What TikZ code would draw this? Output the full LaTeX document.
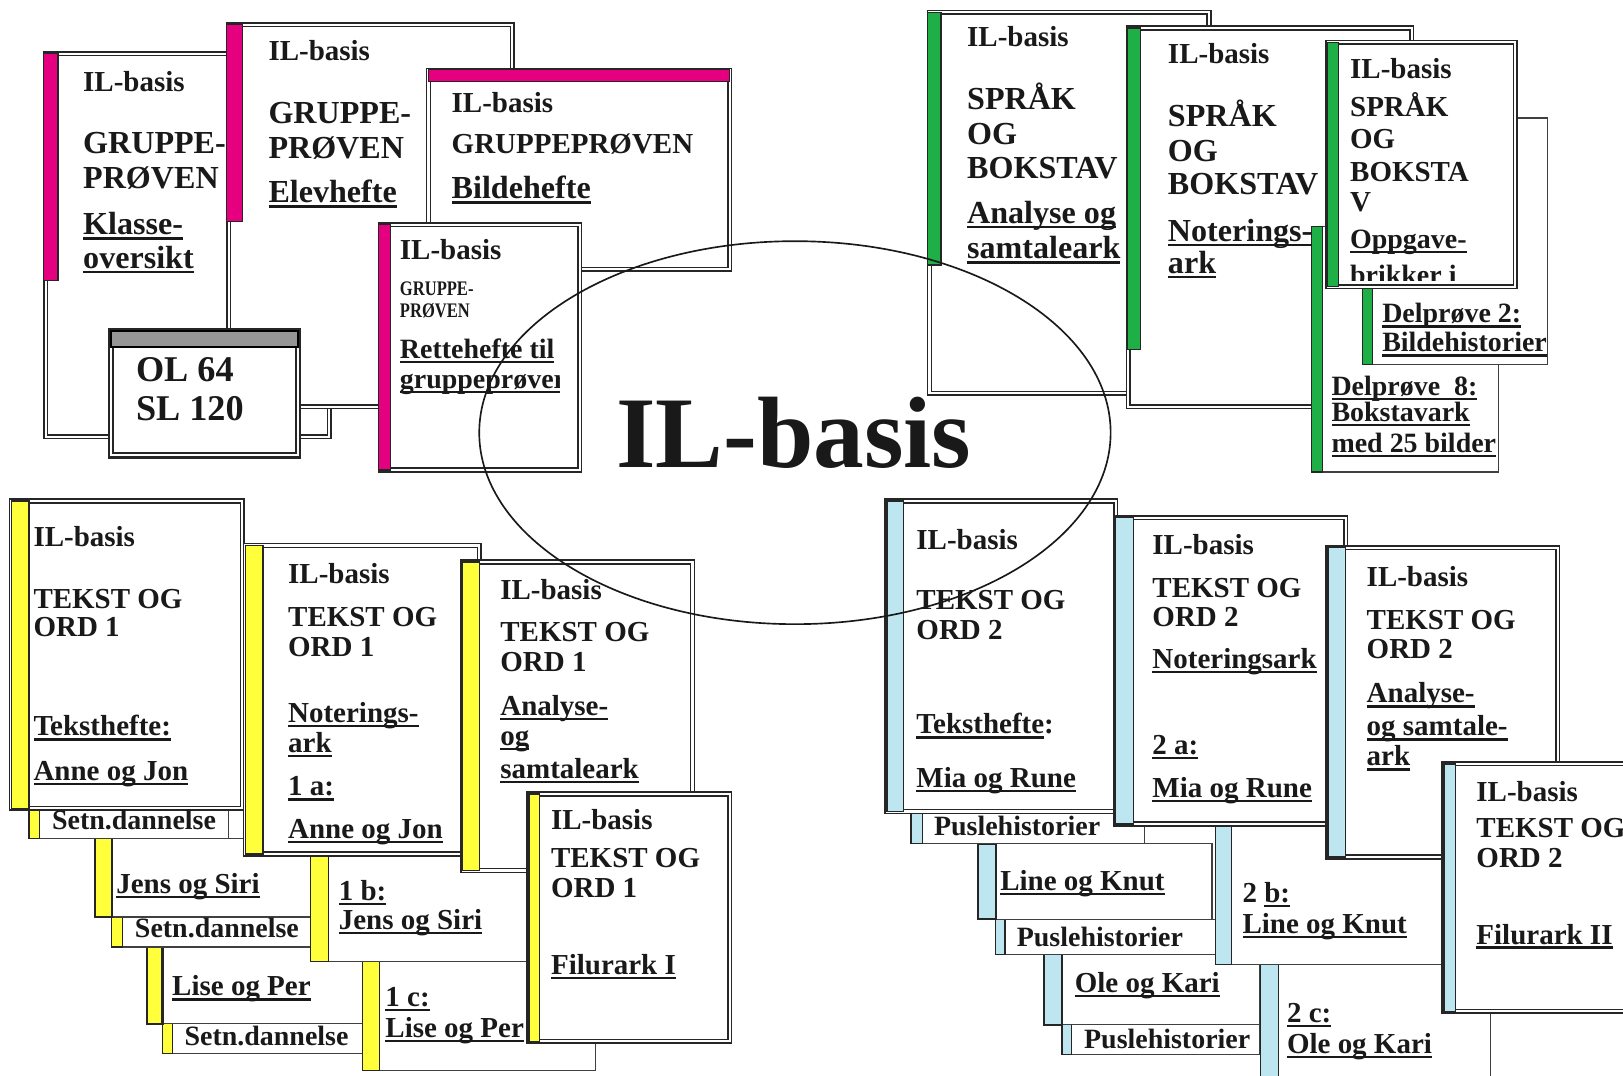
\documentclass[tikz,border=0pt]{standalone}
\usepackage{fontspec}
\setmainfont{Liberation Serif}
\definecolor{pinkc}{RGB}{228,0,126}
\definecolor{greenc}{RGB}{30,175,70}
\definecolor{yellowc}{RGB}{255,255,60}
\definecolor{bluec}{RGB}{190,230,240}
\definecolor{greyc}{RGB}{150,150,150}
\definecolor{txt}{RGB}{25,25,25}
\newcounter{labc}
\newcommand\uln[1]{\setbox0\hbox{#1}\rlap{\copy0}\rule[-2.3pt]{\wd0}{1.1pt}}
\newcommand\lab[4]{\stepcounter{labc}\node[lab,#1] (lab\arabic{labc}) at (#2,#3) {#4};}
\tikzset{
  lab/.style={anchor=base west, inner sep=0pt, text=txt},
  fs/.style={font=\fontsize{14}{16}\selectfont\bfseries},
  fm/.style={font=\fontsize{13.5}{16}\selectfont\bfseries},
  fb/.style={font=\fontsize{15.5}{18}\selectfont\bfseries},
  fd/.style={font=\fontsize{10}{12}\selectfont\bfseries},
  fol/.style={font=\fontsize{17.5}{20}\selectfont\bfseries},
  fbig/.style={font=\fontsize{49}{55}\selectfont\bfseries},
  dbox/.style={fill=white, draw=black!85, double=white, double distance=1pt, line width=0.75pt},
  sbox/.style={fill=white, draw=black!75, line width=0.6pt},
  cbar/.style={fill=#1, draw=black!85, line width=0.6pt},
}
\begin{document}
\begin{tikzpicture}[x=0.5pt,y=-0.5pt]
\clip (0,0) rectangle (1568,1039);
\fill[white] (0,0) rectangle (1568,1039);

% ---------------- pink group ----------------
\draw[dbox] (44,52) rectangle (318,422);
\draw[cbar=pinkc] (42,52) rectangle (56,271);
\draw[dbox] (221,24) rectangle (495,393);
\draw[cbar=pinkc] (219,24) rectangle (234,214);
\draw[dbox] (414,68) rectangle (705,260);
\draw[cbar=pinkc] (414,67) rectangle (705,79);
\draw[dbox,line width=1pt] (107,320) rectangle (288,440);
\draw[fill=greyc,draw=black,line width=0.8pt] (107,320) rectangle (288,335);
\draw[dbox] (368,217) rectangle (560,454);
\draw[cbar=pinkc] (366,217) rectangle (377,454);

\lab{fs}{80}{88}{IL-basis}
\lab{fb}{80}{148}{GRUPPE-}
\lab{fb}{80}{182}{PRØVEN}
\lab{fb}{80}{227}{\uln{Klasse-}}
\lab{fb}{80}{259}{\uln{oversikt}}
\lab{fs}{259}{58}{IL-basis}
\lab{fb}{259}{119}{GRUPPE-}
\lab{fb}{259}{153}{PRØVEN}
\lab{fb}{259}{196}{\uln{Elevhefte}}
\lab{fs}{436}{109}{IL-basis}
\lab{fs}{436}{148}{GRUPPEPRØVEN}
\lab{fb}{436}{192}{\uln{Bildehefte}}
\lab{fs}{386}{251}{IL-basis}
\lab{fd}{386}{285}{\scalebox{0.8}[1]{GRUPPE-}}
\lab{fd}{386}{307}{\scalebox{0.8}[1]{PRØVEN}}
\lab{fm}{386}{346}{\uln{Rettehefte til}}
\begin{scope}
\clip (380,350) rectangle (541,450);
\lab{fm}{386}{375}{\uln{gruppeprøver}}
\end{scope}
\lab{fol}{131}{369}{OL 64}
\lab{fol}{131}{406}{SL 120}

% ---------------- green group ----------------
\draw[dbox] (898,12) rectangle (1168,380);
\draw[cbar=greenc] (896,12) rectangle (909,256);
\draw[dbox] (1090,27) rectangle (1364,393);
\draw[cbar=greenc] (1089,27) rectangle (1102,338);
\draw[sbox] (1268,219) rectangle (1448,456);
\draw[cbar=greenc] (1267,219) rectangle (1278,456);
\draw[sbox] (1316,114) rectangle (1495,352);
\draw[cbar=greenc] (1316,114) rectangle (1326,352);
\draw[dbox] (1283,41) rectangle (1464,277);
\draw[cbar=greenc] (1282,41) rectangle (1293,277);

\lab{fs}{934}{45}{IL-basis}
\lab{fb}{934}{106}{SPRÅK}
\lab{fb}{934}{140}{OG}
\lab{fb}{934}{172}{BOKSTAV}
\lab{fb}{934}{216}{\uln{Analyse og}}
\lab{fb}{934}{250}{\uln{samtaleark}}
\lab{fs}{1128}{61}{IL-basis}
\lab{fb}{1128}{122}{SPRÅK}
\lab{fb}{1128}{156}{OG}
\lab{fb}{1128}{188}{BOKSTAV}
\lab{fb}{1128}{233}{\uln{Noterings-}}
\lab{fb}{1128}{264}{\uln{ark}}
\lab{fs}{1304}{76}{IL-basis}
\lab{fs}{1304}{113}{SPRÅK}
\lab{fs}{1304}{143}{OG}
\lab{fs}{1304}{175}{BOKSTA}
\lab{fs}{1304}{204}{V}
\lab{fm}{1304}{240}{\uln{Oppgave-}}
\begin{scope}
\clip (1295,245) rectangle (1460,271);
\lab{fm}{1304}{275}{\uln{brikker i}}
\end{scope}
\lab{fm}{1335}{312}{\uln{Delprøve 2:}}
\lab{fm}{1335}{340}{\uln{Bildehistorier}}
\lab{fm}{1286}{382}{\uln{Delprøve\ \ 8:}}
\lab{fm}{1286}{407}{\uln{Bokstavark}}
\lab{fm}{1286}{437}{\uln{med 25 bilder}}

% ---------------- yellow group ----------------
\draw[sbox] (157,989) rectangle (351,1018);
\draw[cbar=yellowc] (157,989) rectangle (167,1018);
\draw[sbox] (142,915) rectangle (360,989);
\draw[cbar=yellowc,line width=1pt] (142,915) rectangle (157,989);
\draw[sbox] (108,886) rectangle (300,915);
\draw[cbar=yellowc] (108,886) rectangle (118,915);
\draw[sbox] (92,810) rectangle (311,886);
\draw[cbar=yellowc,line width=1pt] (92,810) rectangle (108,886);
\draw[sbox] (28,781) rectangle (221,810);
\draw[cbar=yellowc] (28,781) rectangle (38,810);
\draw[dbox] (11,484) rectangle (234,781);
\draw[cbar=yellowc] (11,484) rectangle (28,781);
\draw[sbox] (350,929) rectangle (575,1034);
\draw[cbar=yellowc] (350,929) rectangle (367,1034);
\draw[sbox] (300,825) rectangle (520,929);
\draw[cbar=yellowc] (300,825) rectangle (317,929);
\draw[dbox] (237,527) rectangle (463,825);
\draw[cbar=yellowc] (237,527) rectangle (254,825);
\draw[dbox] (447,543) rectangle (669,841);
\draw[cbar=yellowc] (447,543) rectangle (463,841);
\draw[dbox] (511,767) rectangle (705,1006);
\draw[cbar=yellowc] (511,767) rectangle (521,1006);

\lab{fs}{32}{528}{IL-basis}
\lab{fs}{32}{588}{TEKST OG}
\lab{fs}{32}{615}{ORD 1}
\lab{fs}{32}{711}{\uln{Teksthefte:}}
\lab{fs}{32}{754}{\uln{Anne og Jon}}
\lab{fm}{50}{801}{Setn.dannelse}
\lab{fs}{112}{863}{\uln{Jens og Siri}}
\lab{fm}{130}{906}{Setn.dannelse}
\lab{fs}{166}{962}{\uln{Lise og Per}}
\lab{fm}{178}{1010}{Setn.dannelse}
\lab{fs}{278}{564}{IL-basis}
\lab{fs}{278}{605}{TEKST OG}
\lab{fs}{278}{634}{ORD 1}
\lab{fs}{278}{698}{\uln{Noterings-}}
\lab{fs}{278}{727}{\uln{ark}}
\lab{fs}{278}{769}{\uln{1 a:}}
\lab{fs}{278}{810}{\uln{Anne og Jon}}
\lab{fs}{327}{870}{\uln{1 b:}}
\lab{fs}{327}{898}{\uln{Jens og Siri}}
\lab{fs}{372}{972}{\uln{1 c:}}
\lab{fs}{372}{1002}{\uln{Lise og Per}}
\lab{fs}{483}{579}{IL-basis}
\lab{fs}{483}{620}{TEKST OG}
\lab{fs}{483}{649}{ORD 1}
\lab{fs}{483}{691}{\uln{Analyse-}}
\lab{fs}{483}{720}{\uln{og}}
\lab{fs}{483}{752}{\uln{samtaleark}}
\lab{fs}{532}{801}{IL-basis}
\lab{fs}{532}{838}{TEKST OG}
\lab{fs}{532}{867}{ORD 1}
\lab{fs}{532}{941}{\uln{Filurark I}}

% ---------------- blue group ----------------
\draw[sbox] (1026,986) rectangle (1217,1019);
\draw[cbar=bluec] (1026,986) rectangle (1035,1019);
\draw[sbox] (1009,922) rectangle (1217,990);
\draw[cbar=bluec,line width=1pt] (1009,922) rectangle (1026,990);
\draw[sbox] (962,888) rectangle (1174,922);
\draw[cbar=bluec] (962,888) rectangle (971,922);
\draw[sbox] (945,815) rectangle (1171,888);
\draw[cbar=bluec,line width=1pt] (945,815) rectangle (962,888);
\draw[sbox] (880,784) rectangle (1106,815);
\draw[cbar=bluec] (880,784) rectangle (891,815);
\draw[dbox] (857,484) rectangle (1078,784);
\draw[cbar=bluec] (857,484) rectangle (873,784);
\draw[sbox] (1218,932) rectangle (1440,1050);
\draw[cbar=bluec] (1218,932) rectangle (1235,1050);
\draw[sbox] (1174,796) rectangle (1395,932);
\draw[cbar=bluec] (1174,796) rectangle (1190,932);
\draw[dbox] (1078,500) rectangle (1300,796);
\draw[cbar=bluec] (1078,500) rectangle (1095,796);
\draw[dbox] (1283,529) rectangle (1505,828);
\draw[cbar=bluec] (1283,529) rectangle (1300,828);
\draw[dbox] (1395,738) rectangle (1600,977);
\draw[cbar=bluec] (1395,738) rectangle (1406,977);

\lab{fs}{885}{531}{IL-basis}
\lab{fs}{885}{589}{TEKST OG}
\lab{fs}{885}{618}{ORD 2}
\lab{fs}{885}{709}{\uln{Teksthefte}:}
\lab{fs}{885}{761}{\uln{Mia og Rune}}
\lab{fm}{902}{807}{Puslehistorier}
\lab{fs}{966}{860}{\uln{Line og Knut}}
\lab{fm}{982}{914}{Puslehistorier}
\lab{fs}{1038}{959}{\uln{Ole og Kari}}
\lab{fm}{1047}{1013}{Puslehistorier}
\lab{fs}{1113}{536}{IL-basis}
\lab{fs}{1113}{577}{TEKST OG}
\lab{fs}{1113}{605}{ORD 2}
\lab{fs}{1113}{646}{\uln{Noteringsark}}
\lab{fs}{1113}{729}{\uln{2 a:}}
\lab{fs}{1113}{770}{\uln{Mia og Rune}}
\lab{fs}{1200}{872}{2 \uln{b:}}
\lab{fs}{1200}{902}{\uln{Line og Knut}}
\lab{fs}{1243}{988}{\uln{2 c:}}
\lab{fs}{1243}{1018}{\uln{Ole og Kari}}
\lab{fs}{1320}{567}{IL-basis}
\lab{fs}{1320}{608}{TEKST OG}
\lab{fs}{1320}{636}{ORD 2}
\lab{fs}{1320}{679}{\uln{Analyse-}}
\lab{fs}{1320}{711}{\uln{og samtale-}}
\lab{fs}{1320}{740}{\uln{ark}}
\lab{fs}{1426}{774}{IL-basis}
\lab{fs}{1426}{809}{TEKST OG}
\lab{fs}{1426}{838}{ORD 2}
\lab{fs}{1426}{912}{\uln{Filurark II}}

% ---------------- centre ----------------
\draw[line width=0.8pt, draw=black!90] (768,418) ellipse [x radius=305, y radius=185];
\lab{fbig}{595}{452}{IL-basis}
\end{tikzpicture}
\end{document}
